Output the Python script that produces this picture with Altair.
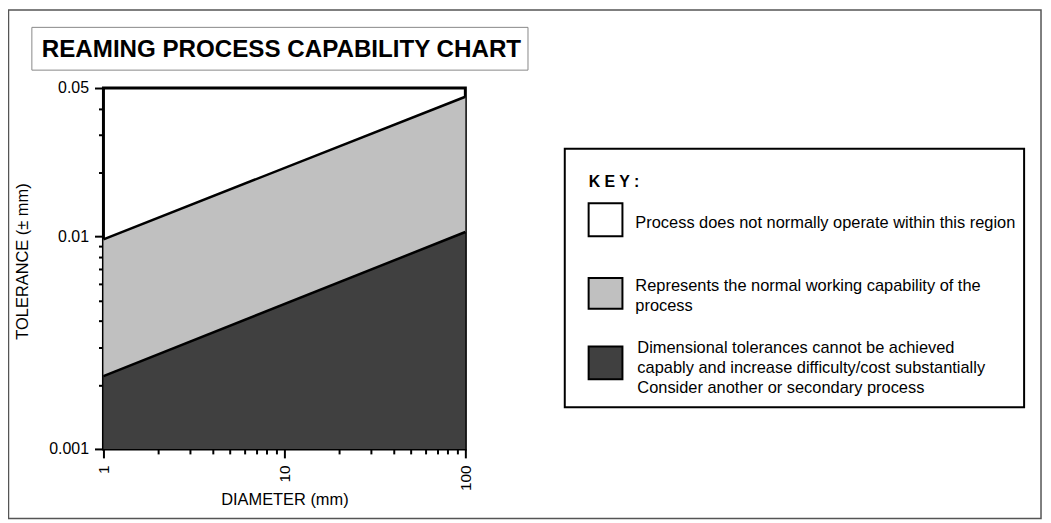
import altair as alt
import pandas as pd

# ---------------- data ----------------
diameter = [1, 100]
upper_tol = [0.0097, 0.0455]    # boundary: white / grey
lower_tol = [0.0022, 0.0105]    # boundary: grey / dark

x_tick_values = [1, 2, 3, 4, 5, 6, 7, 8, 9, 10, 20, 30, 40, 50, 60, 70, 80, 90, 100]
x_label_values = [1, 10, 100]
y_tick_values = [0.001, 0.002, 0.003, 0.004, 0.005, 0.006, 0.007, 0.008, 0.009,
                 0.01, 0.02, 0.03, 0.04, 0.05]
y_label_values = [0.001, 0.01, 0.05]

chart_title = "REAMING PROCESS CAPABILITY CHART"
x_title = "DIAMETER (mm)"
y_title = "TOLERANCE (± mm)"
key_title = "K E Y :"
key_labels = [
    "Process does not normally operate within this region",
    "Represents the normal working capability of the\nprocess",
    "Dimensional tolerances cannot be achieved\ncapably and increase difficulty/cost substantially\nConsider another or secondary process",
]
key_colors = ["#ffffff", "#c0c0c0", "#404040"]

FONT = "Liberation Sans"
W, H = 364, 363

df = pd.DataFrame({"d": diameter, "upper": upper_tol, "lower": lower_tol})
one = pd.DataFrame({"k": [0]})

xlab_test = " || ".join(f"datum.value == {v}" for v in x_label_values)
ylab_test = " || ".join(f"datum.value == {v}" for v in y_label_values)

xscale = alt.Scale(type="log", domain=[1, 100], nice=False)
yscale = alt.Scale(type="log", domain=[0.001, 0.05], nice=False)

xaxis = alt.Axis(
    values=x_tick_values, format="~g",
    labelExpr=f"({xlab_test}) ? datum.label : ''",
    labelAngle=270, labelAlign="right", labelBaseline="middle",
    labelOverlap=False, labelFlush=False, labelPadding=7,
    labelFont=FONT, labelFontSize=15.5, labelColor="black",
    tickSize={"condition": {"test": xlab_test, "value": 9}, "value": 5},
    tickWidth=2, tickColor="black", domain=False, grid=False,
    title=x_title, titleFont=FONT, titleFontSize=16.5, titleFontWeight="normal",
    titleColor="black", titleBaseline="alphabetic", titleY=56,
)
yaxis = alt.Axis(
    values=y_tick_values, format="~g",
    labelExpr=f"({ylab_test}) ? datum.label : ''",
    labelOverlap=False, labelFlush=False, labelPadding=6,
    labelFont=FONT, labelFontSize=16, labelColor="black",
    tickSize={"condition": {"test": ylab_test, "value": 9}, "value": 5},
    tickWidth=2, tickColor="black", domain=False, grid=False,
    title=y_title, titleFont=FONT, titleFontSize=16.5, titleFontWeight="normal",
    titleColor="black", titleBaseline="alphabetic", titleAngle=270,
    titleX=-76, titleY=174, titleAlign="center",
)

base = alt.Chart(df)
X = alt.X("d:Q", scale=xscale, axis=xaxis)

grey_area = base.mark_area(color=key_colors[1], opacity=1).encode(
    x=X, y=alt.Y("upper:Q", scale=yscale, axis=yaxis), y2="lower:Q")
dark_area = base.mark_area(color=key_colors[2], opacity=1).encode(
    x=X, y=alt.Y("lower:Q", scale=yscale), y2=alt.datum(0.001))
upper_line = base.mark_line(color="black", strokeWidth=2.5).encode(
    x=X, y=alt.Y("upper:Q", scale=yscale))
lower_line = base.mark_line(color="black", strokeWidth=2.5).encode(
    x=X, y=alt.Y("lower:Q", scale=yscale))


def box(x1, y1, x2, y2, stroke, sw, fill=None):
    kw = dict(stroke=stroke, strokeWidth=sw)
    if fill is None:
        kw["fillOpacity"] = 0
        kw["fill"] = "white"
    else:
        kw["fill"] = fill
    return alt.Chart(one).mark_rect(**kw).encode(
        x=alt.value(x1), x2=alt.value(x2), y=alt.value(y1), y2=alt.value(y2))


def text(s, x, y, size, weight="normal", line_height=None):
    kw = dict(font=FONT, fontSize=size, fontWeight=weight, color="black",
              align="left", baseline="alphabetic")
    if line_height is not None:
        kw["lineBreak"] = "\n"
        kw["lineHeight"] = line_height
    return alt.Chart(one).mark_text(**kw).encode(
        x=alt.value(x), y=alt.value(y), text=alt.value(s))


layers = [grey_area, dark_area, upper_line, lower_line]

# outer frame and title box
layers.append(box(-95.5, -78.5, 943, 433, "#555555", 1.5))
layers.append(box(-72, -61, 427, -18, "#888888", 1))
layers.append(text(chart_title, -62, -31.5, 24.3, "bold"))

# key
layers.append(box(464, 61, 926, 321, "black", 2))
layers.append(text(key_title, 488, 100, 16, "bold"))
sw_y = [(116, 149), (191, 222), (260, 293)]
txt_pos = [(535, 141), (535, 204), (537, 267)]
for (y1, y2), (tx, ty), lab, col in zip(sw_y, txt_pos, key_labels, key_colors):
    layers.append(box(488, y1, 522, y2, "black", 2, fill=col))
    layers.append(text(lab, tx, ty, 16.5, line_height=20))

chart = alt.layer(*layers).properties(
    width=W, height=H,
    padding={"left": 96, "top": 79, "right": 581, "bottom": 71},
    autosize=alt.AutoSizeParams(type="none"),
    background="white",
).configure_view(stroke="black", strokeWidth=3)

chart.save("out.html", embed_options={"renderer": "svg", "actions": False})
